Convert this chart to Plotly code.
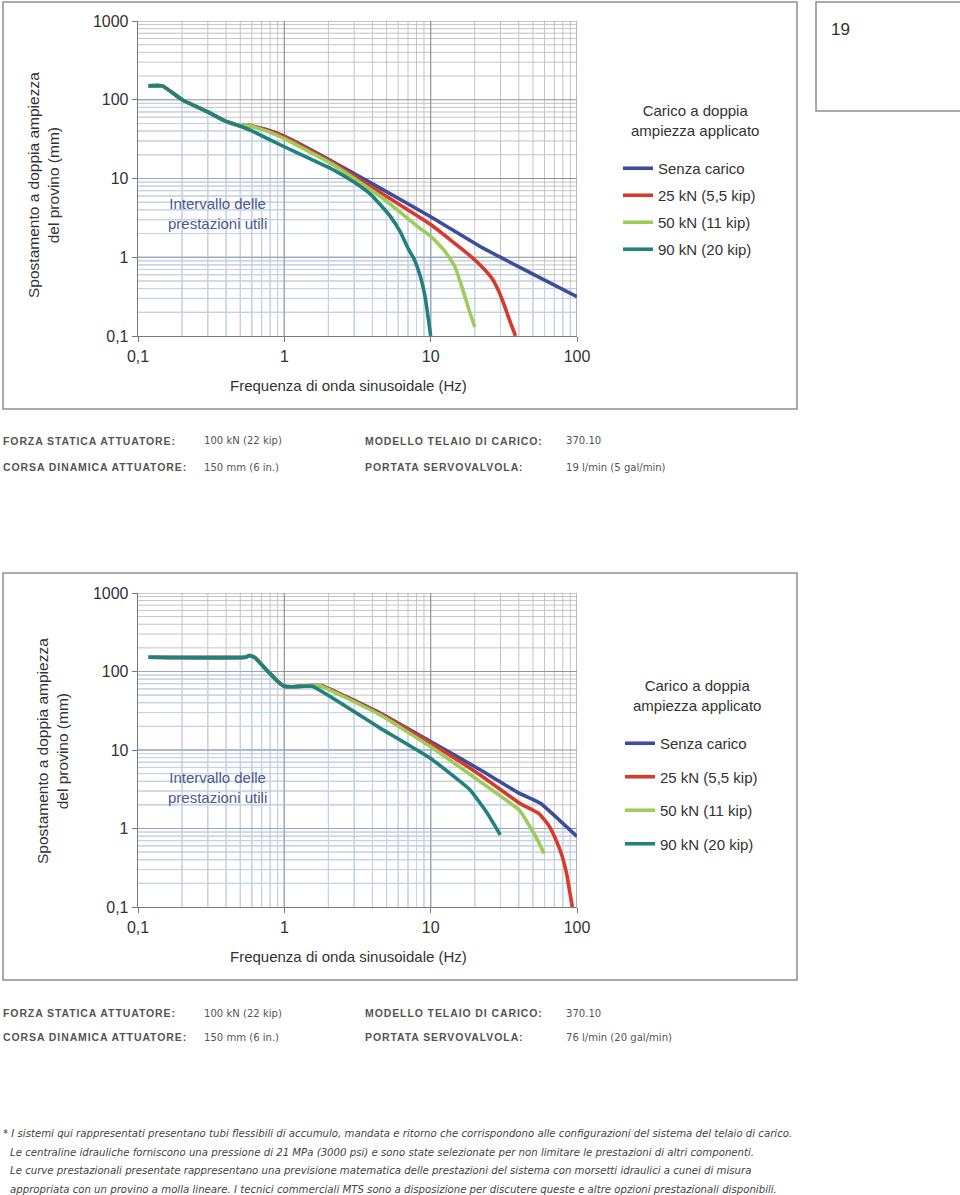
import numpy as np
import plotly.graph_objects as go

W, H = 960, 1195

# ---------------- DATA ----------------
SERIES_NAMES = ["Senza carico", "25 kN (5,5 kip)", "50 kN (11 kip)", "90 kN (20 kip)"]
SERIES_COLORS = ["#3c4d9c", "#d8392b", "#9dcc5b", "#22807d"]
LEGEND_TITLE = "Carico a doppia<br>ampiezza applicato"

X_TICKS = [0.1, 1, 10, 100]
X_TICK_TEXT = ["0,1", "1", "10", "100"]
Y_TICKS = [0.1, 1, 10, 100, 1000]
Y_TICK_TEXT = ["0,1", "1", "10", "100", "1000"]

# Top chart (servovalvola 19 l/min)
top_senza_x = [0.118, 0.147, 0.2, 0.3, 0.4, 0.5, 0.55, 0.76, 1.0, 2.18, 4.55, 10, 21.9, 48.5, 100]
top_senza_y = [150, 150, 100, 70, 53, 46.5, 48, 41.5, 34.5, 16.1, 7.5, 3.27, 1.36, 0.63, 0.315]
top_25_x = [0.118, 0.147, 0.2, 0.3, 0.4, 0.5, 0.55, 0.76, 1.0, 2.18, 4.55, 10, 18.9, 23, 26.2, 29, 32, 35, 38]
top_25_y = [150, 150, 100, 70, 53, 46.5, 48, 41, 34, 15.6, 6.6, 2.6, 1.02, 0.72, 0.54, 0.38, 0.24, 0.15, 0.1]
top_50_x = [0.118, 0.147, 0.2, 0.3, 0.4, 0.5, 0.55, 0.76, 1.0, 2.18, 4.55, 8.53, 10, 12.5, 14.6, 16.5, 18.2, 20]
top_50_y = [150, 150, 100, 70, 53, 46.5, 48, 40, 32, 14.8, 5.9, 2.3, 1.85, 1.2, 0.77, 0.4, 0.22, 0.13]
top_90_x = [0.118, 0.147, 0.2, 0.3, 0.4, 0.5, 0.616, 1.0, 2.18, 2.97, 3.89, 4.55, 5.3, 6.2, 7.0, 7.7, 8.5, 9.2, 10]
top_90_y = [150, 150, 100, 70, 53, 46.5, 39.3, 25.3, 12.8, 9.1, 6.3, 4.6, 3.3, 2.1, 1.3, 0.95, 0.57, 0.3, 0.1]

# Bottom chart (servovalvola 76 l/min)
bot_senza_x = [0.118, 0.54, 0.58, 0.63, 0.76, 0.9, 1.0, 1.15, 1.5, 1.8, 4.51, 10, 21.8, 40.5, 56.2, 100]
bot_senza_y = [152, 152, 160, 150, 104, 75, 65, 64, 66, 66, 29.5, 12.8, 5.6, 2.8, 2.1, 0.79]
bot_25_x = [0.118, 0.54, 0.58, 0.63, 0.76, 0.9, 1.0, 1.15, 1.5, 1.8, 4.51, 10, 21.8, 40.5, 54.8, 64, 72, 79, 84.8, 89, 93]
bot_25_y = [152, 152, 160, 150, 104, 75, 65, 64, 66, 66, 29, 12.2, 4.8, 2.1, 1.56, 1.1, 0.71, 0.45, 0.27, 0.16, 0.1]
bot_50_x = [0.118, 0.54, 0.58, 0.63, 0.76, 0.9, 1.0, 1.15, 1.5, 1.75, 4.51, 10, 21.8, 40.5, 48.5, 54, 59.5]
bot_50_y = [152, 152, 160, 150, 104, 75, 65, 64, 66, 66, 28, 11, 3.95, 1.7, 1.0, 0.7, 0.48]
bot_90_x = [0.118, 0.54, 0.58, 0.63, 0.76, 0.9, 1.0, 1.15, 1.55, 4.51, 10, 18.6, 24.2, 29.9]
bot_90_y = [152, 152, 160, 150, 104, 75, 65, 64, 65, 19, 7.8, 3.1, 1.6, 0.83]

TOP_SPECS = [
    ("FORZA STATICA ATTUATORE:", "100 kN (22 kip)", "MODELLO TELAIO DI CARICO:", "370.10"),
    ("CORSA DINAMICA ATTUATORE:", "150 mm (6 in.)", "PORTATA SERVOVALVOLA:", "19 l/min (5 gal/min)"),
]
BOT_SPECS = [
    ("FORZA STATICA ATTUATORE:", "100 kN (22 kip)", "MODELLO TELAIO DI CARICO:", "370.10"),
    ("CORSA DINAMICA ATTUATORE:", "150 mm (6 in.)", "PORTATA SERVOVALVOLA:", "76 l/min (20 gal/min)"),
]
FOOTNOTE = [
    "* I sistemi qui rappresentati presentano tubi flessibili di accumulo, mandata e ritorno che corrispondono alle configurazioni del sistema del telaio di carico.",
    "Le centraline idrauliche forniscono una pressione di 21 MPa (3000 psi) e sono state selezionate per non limitare le prestazioni di altri componenti.",
    "Le curve prestazionali presentate rappresentano una previsione matematica delle prestazioni del sistema con morsetti idraulici a cunei di misura",
    "appropriata con un provino a molla lineare. I tecnici commerciali MTS sono a disposizione per discutere queste e altre opzioni prestazionali disponibili.",
]
PAGE_NUMBER = "19"

# ---------------- HELPERS ----------------
XMIN, XMAX, YMIN, YMAX = 0.1, 100.0, 0.1, 1000.0


def px(x):
    return x / W


def py(y):
    return 1 - y / H


def minor_vals(lo_exp, hi_exp):
    out = []
    for d in range(lo_exp, hi_exp):
        for m in range(2, 10):
            out.append(m * 10.0 ** d)
    return out


X_MINOR = minor_vals(-1, 2)
Y_MINOR = minor_vals(-1, 3)


def env_at(u, xs, ys):
    if u <= xs[0]:
        return ys[0]
    if u >= xs[-1]:
        return ys[-1]
    return 10 ** np.interp(np.log10(u), np.log10(xs), np.log10(ys))


def cross_x(v, xs, ys):
    if v > max(ys):
        return None
    if ys[-1] >= v:
        return xs[-1]
    for i in range(len(xs) - 1, 0, -1):
        if ys[i - 1] >= v > ys[i]:
            l0, l1 = np.log10(ys[i - 1]), np.log10(ys[i])
            t = (np.log10(v) - l0) / (l1 - l0)
            return 10 ** (np.log10(xs[i - 1]) + t * (np.log10(xs[i]) - np.log10(xs[i - 1])))
    return None


def full_lines(xvals, yvals):
    gx, gy = [], []
    for v in yvals:
        gx += [XMIN, XMAX, None]
        gy += [v, v, None]
    for u in xvals:
        gx += [u, u, None]
        gy += [YMIN, YMAX, None]
    return gx, gy


def under_lines(xvals, yvals, ex, ey):
    gx, gy = [], []
    for v in yvals:
        xc = cross_x(v, ex, ey)
        if xc is not None:
            gx += [XMIN, xc, None]
            gy += [v, v, None]
    for u in xvals:
        top = env_at(u, ex, ey)
        gx += [u, u, None]
        gy += [YMIN, top, None]
    return gx, gy


fig = go.Figure()


def add_grid(xa, ya, ex, ey):
    for (xv, yv, col, wd) in [
        (X_MINOR, Y_MINOR, "#c4c4c4", 1),
        (X_TICKS[1:], Y_TICKS[1:], "#939393", 1.2),
    ]:
        gx, gy = full_lines(xv, yv)
        fig.add_trace(go.Scatter(x=gx, y=gy, mode="lines", line=dict(color=col, width=wd),
                                 xaxis=xa, yaxis=ya, showlegend=False, hoverinfo="skip"))
    for (xv, yv, col, wd) in [
        (X_MINOR, Y_MINOR, "#c3d3ea", 1),
        (X_TICKS[1:], Y_TICKS[1:-1], "#98a9c4", 1.2),
    ]:
        gx, gy = under_lines(xv, yv, ex, ey)
        fig.add_trace(go.Scatter(x=gx, y=gy, mode="lines", line=dict(color=col, width=wd),
                                 xaxis=xa, yaxis=ya, showlegend=False, hoverinfo="skip"))


def add_curves(xa, ya, data, legend):
    for i, (xs, ys) in enumerate(data):
        fig.add_trace(go.Scatter(
            x=xs, y=ys, mode="lines", name=SERIES_NAMES[i],
            line=dict(color=SERIES_COLORS[i], width=3.6, shape="spline", smoothing=0.35),
            xaxis=xa, yaxis=ya, legend=legend, legendgroup=legend + str(i),
            legendrank=i + 1, hoverinfo="skip"))


add_grid("x", "y", top_senza_x, top_senza_y)
add_curves("x", "y", [(top_senza_x, top_senza_y), (top_25_x, top_25_y),
                      (top_50_x, top_50_y), (top_90_x, top_90_y)], "legend")
add_grid("x2", "y2", bot_senza_x, bot_senza_y)
add_curves("x2", "y2", [(bot_senza_x, bot_senza_y), (bot_25_x, bot_25_y),
                        (bot_50_x, bot_50_y), (bot_90_x, bot_90_y)], "legend2")

FONT = "Liberation Sans, Arial, sans-serif"
NARROW = "Liberation Sans Narrow, DejaVu Sans Condensed, Arial Narrow, sans-serif"
TXT = "#333333"

axis_common = dict(type="log", showgrid=False, zeroline=False, showline=True, automargin=False,
                   linecolor="#7a7a7a", linewidth=1.3, ticks="outside", ticklen=5,
                   tickcolor="#7a7a7a", tickfont=dict(family=FONT, size=16, color=TXT),
                   tickmode="array", fixedrange=True)

x_dom = [px(138), px(577)]
fig.update_layout(
    width=W, height=H, margin=dict(l=0, r=0, t=0, b=0, pad=0, autoexpand=False),
    paper_bgcolor="white", plot_bgcolor="white",
    xaxis=dict(axis_common, domain=x_dom, range=[-1, 2], tickvals=X_TICKS, ticktext=X_TICK_TEXT, anchor="y"),
    yaxis=dict(axis_common, domain=[py(336), py(21)], range=[-1, 3], tickvals=Y_TICKS, ticktext=Y_TICK_TEXT, anchor="x"),
    xaxis2=dict(axis_common, domain=x_dom, range=[-1, 2], tickvals=X_TICKS, ticktext=X_TICK_TEXT, anchor="y2"),
    yaxis2=dict(axis_common, domain=[py(907), py(593)], range=[-1, 3], tickvals=Y_TICKS, ticktext=Y_TICK_TEXT, anchor="x2"),
    showlegend=True,
)

legend_common = dict(
    xanchor="left", yanchor="top", bgcolor="rgba(0,0,0,0)",
    font=dict(family=FONT, size=15, color=TXT), itemclick=False, itemdoubleclick=False,
    traceorder="grouped",
)
fig.update_layout(
    legend=dict(legend_common, x=px(618), y=py(152), tracegroupgap=4.5),
    legend2=dict(legend_common, x=px(620), y=py(727), tracegroupgap=11),
)

ann = []
shapes = []

# frames
for (x0, y0, x1, y1) in [(3, 2, 797, 409), (3, 573, 797, 980), (816, 2, 965, 111)]:
    shapes.append(dict(type="rect", xref="paper", yref="paper", x0=px(x0), x1=px(x1),
                       y0=py(y1), y1=py(y0), line=dict(color="#8e8e8e", width=1.5)))

ann.append(dict(x=px(829), y=py(30), text=PAGE_NUMBER, xanchor="left", yanchor="middle",
                font=dict(family=FONT, size=17, color=TXT)))

for (cy_title, cx_ytitle, cy_ytitle, cy_interv, cy_leg, cx_leg) in [
        (385, 43, 185, 214, 121, 695), (957, 52, 751, 787, 695, 697)]:
    ann.append(dict(x=px(348), y=py(cy_title), text="Frequenza di onda sinusoidale (Hz)",
                    xanchor="center", yanchor="middle", font=dict(family=FONT, size=15, color=TXT)))
    ann.append(dict(x=px(cx_ytitle), y=py(cy_ytitle), text="Spostamento a doppia ampiezza<br>del provino (mm)",
                    textangle=-90, xanchor="center", yanchor="middle",
                    font=dict(family=FONT, size=15.5, color=TXT)))
    ann.append(dict(x=px(217), y=py(cy_interv), text="Intervallo delle<br>prestazioni utili",
                    xanchor="center", yanchor="middle", font=dict(family=FONT, size=15, color="#4a5a92")))
    ann.append(dict(x=px(cx_leg), y=py(cy_leg), text=LEGEND_TITLE, xanchor="center", yanchor="middle",
                    align="center", font=dict(family=FONT, size=15, color=TXT)))

for specs, ys in [(TOP_SPECS, (441, 467)), (BOT_SPECS, (1013, 1037))]:
    for row, yy in zip(specs, ys):
        for txt, xx, bold in [(row[0], 1, True), (row[1], 202, False), (row[2], 363, True), (row[3], 564, False)]:
            if bold:
                f = dict(family=FONT, size=10.5, color="#555555", weight="bold")
                txt = '<span style="letter-spacing:0.9px">' + txt + '</span>'
            else:
                f = dict(family=NARROW, size=11.2, color="#555555")
            ann.append(dict(x=px(xx), y=py(yy), text=txt, xanchor="left", yanchor="middle", font=f))

for i, (line, yy) in enumerate(zip(FOOTNOTE, [1133, 1152, 1170, 1189])):
    ann.append(dict(x=px(1 if i == 0 else 8), y=py(yy), text=line, xanchor="left", yanchor="middle",
                    font=dict(family=NARROW, size=11.3, color="#444444", style="italic")))

for a in ann:
    a.update(xref="paper", yref="paper", showarrow=False)

fig.update_layout(annotations=ann, shapes=shapes)

fig.write_html("out.html", config={"displayModeBar": False, "staticPlot": True},
               post_script="document.body.style.margin='0';document.body.style.overflow='hidden';")
